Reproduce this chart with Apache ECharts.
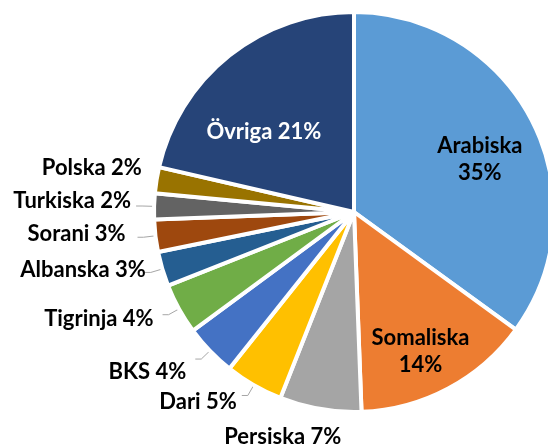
<!DOCTYPE html>
<html><head><meta charset="utf-8">
<script src="https://cdn.jsdelivr.net/npm/echarts@6/dist/echarts.min.js"></script>
<style>html,body{margin:0;padding:0;background:#fff}#c{width:548px;height:446px}</style>
</head><body><div id="c"></div>
<script>
// Data
const categories = ['Arabiska','Somaliska','Persiska','Dari','BKS','Tigrinja','Albanska','Sorani','Turkiska','Polska','Övriga'];
const values = [35.0, 14.4, 6.6, 4.7, 4.2, 4.1, 2.8, 2.6, 2.1, 2.1, 21.4];
const colors = ['#5B9BD5','#ED7D31','#A5A5A5','#FFC000','#4472C4','#70AD47','#255E91','#9E480E','#636363','#997300','#264478'];

// Label styling (not data): inside labels and nudges for outside labels
const insideStyle = {
  'Arabiska': {offset: [34, -6], color: '#000', sep: '\n'},
  'Somaliska': {offset: [18, 49], color: '#000', sep: '\n'},
  'Övriga': {offset: [-26, 0], color: '#fff', sep: ' '}
};
const labelNudge = {
  'Polska':   {dx: 8,  dy: -10, line: false},
  'Turkiska': {dx: 0,  dy: -5,  line: true},
  'Sorani':   {dx: -7, dy: -3,  line: true},
  'Albanska': {dx: 6,  dy: -3,  line: true},
  'Tigrinja': {dx: -4, dy: 4,   line: true},
  'BKS':      {dx: -4, dy: 13,  line: true},
  'Dari':     {dx: 0,  dy: 6,   line: true},
  'Persiska': {dx: 34, dy: 16,  line: false}
};

const FONT = 'Lato';
const FS = 22;

const data = categories.map((name, i) => {
  const item = {name: name, value: values[i], itemStyle: {color: colors[i]}};
  const ins = insideStyle[name];
  if (ins) {
    item.label = {
      position: 'inside',
      offset: ins.offset,
      color: ins.color,
      align: 'center',
      lineHeight: 27,
      formatter: p => p.name + ins.sep + Math.round(p.percent) + '%'
    };
    item.labelLine = {show: false};
  } else if (labelNudge[name] && !labelNudge[name].line) {
    item.labelLine = {show: false};
  }
  return item;
});

const chart = echarts.init(document.getElementById('c'), null, {renderer: 'canvas'});
chart.setOption({
  animation: false,
  backgroundColor: '#fff',
  series: [{
    type: 'pie',
    center: [354, 212],
    radius: 200,
    startAngle: 90,
    clockwise: true,
    avoidLabelOverlap: false,
    itemStyle: {borderColor: '#fff', borderWidth: 4},
    label: {
      show: true,
      position: 'outside',
      fontFamily: FONT,
      fontWeight: 'bold',
      fontSize: FS,
      color: '#000',
      formatter: p => p.name + ' ' + Math.round(p.percent) + '%'
    },
    labelLine: {
      show: true,
      length: 12,
      length2: 6,
      lineStyle: {color: '#A6A6A6', width: 1}
    },
    labelLayout: function (params) {
      const n = labelNudge[categories[params.dataIndex]];
      if (!n) return {};
      return {dx: n.dx, dy: n.dy};
    },
    emphasis: {disabled: true},
    data: data
  }]
});
</script>
</body></html>
